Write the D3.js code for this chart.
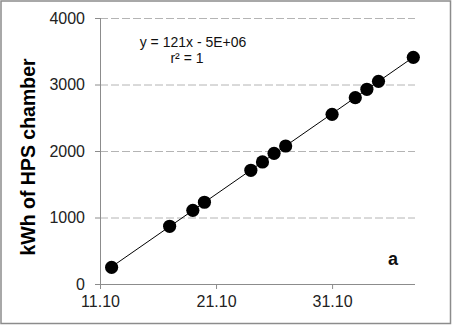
<!DOCTYPE HTML>
<html lang="en">
    <head>
        <meta charset="utf-8">
        <title>kWh of HPS chamber</title>
        <script src="https://d3js.org/d3.v7.min.js"></script>
        <style>
            body { margin: 0; background: #fff; }
            text { font-family: Arial, "Liberation Sans", sans-serif; }
        </style>
    </head>
    <body>
        <div class="chart"></div>

        <script>
            // readings (date, cumulative kWh)
            var dates = ["2013-10-12", "2013-10-17", "2013-10-19", "2013-10-20", "2013-10-24", "2013-10-25",
                         "2013-10-26", "2013-10-27", "2013-10-31", "2013-11-02", "2013-11-03", "2013-11-04", "2013-11-07"];
            var kwh = [251, 868, 1108, 1229, 1710, 1835, 1965, 2075, 2552, 2802, 2928, 3048, 3409];
            var xTicks = ["2013-10-11", "2013-10-21", "2013-10-31"];
            var yTicks = [0, 1000, 2000, 3000, 4000];
            var equation = "y = 121x  - 5E+06";
            var rSquared = "r\u00b2 = 1";

            var W = 452, H = 325;
            var margin = {top: 18, right: 37, bottom: 41, left: 100},
                width = W - margin.left - margin.right,
                height = H - margin.top - margin.bottom;

            var parseDate = d3.timeParse("%Y-%m-%d");
            var data = dates.map(function(d, i) { return {date: parseDate(d), value: kwh[i]}; });

            var x = d3.scaleTime()
                .domain([parseDate("2013-10-11"), new Date(2013, 10, 7, 3, 30)])
                .range([0, width]);
            var y = d3.scaleLinear().domain([0, 4000]).range([height, 0]);

            var svg = d3.select(".chart").append("svg")
                .attr("width", W)
                .attr("height", H);

            // outer frame
            svg.append("rect")
                .attr("x", 1).attr("y", 1)
                .attr("width", W - 2.5).attr("height", H - 2.5)
                .attr("fill", "none")
                .attr("stroke", "#8c8c8c")
                .attr("stroke-width", 1.5);

            var g = svg.append("g")
                .attr("transform", "translate(" + margin.left + "," + margin.top + ")");

            // gridlines
            g.selectAll(".grid")
                .data(yTicks.slice(1))
                .enter().append("line")
                .attr("x1", 0).attr("x2", width)
                .attr("y1", function(d) { return y(d) + 0.5; })
                .attr("y2", function(d) { return y(d) + 0.5; })
                .attr("stroke", "#b4b4b4")
                .attr("stroke-dasharray", "8,3");

            var yAxis = g.append("g")
                .call(d3.axisLeft(y).tickValues(yTicks).tickSize(5).tickPadding(10).tickFormat(d3.format("d")));
            yAxis.select(".domain").attr("stroke", "#8c8c8c").attr("d", "M0.5," + height + "V0");
            yAxis.selectAll(".tick line").attr("stroke", "#8c8c8c");
            yAxis.selectAll("text").attr("font-size", 16).attr("fill", "#222");

            var xAxis = g.append("g")
                .attr("transform", "translate(0," + height + ")")
                .call(d3.axisBottom(x)
                    .tickValues(xTicks.map(parseDate))
                    .tickSize(5)
                    .tickPadding(7)
                    .tickFormat(d3.timeFormat("%d.%m")));
            xAxis.select(".domain").attr("stroke", "#8c8c8c").attr("d", "M0,0.5H" + width);
            xAxis.selectAll(".tick line").attr("stroke", "#8c8c8c");
            xAxis.selectAll("text").attr("font-size", 16).attr("fill", "#222");

            // linear trendline (least squares)
            var xs = data.map(function(d) { return +d.date; });
            var mx = d3.mean(xs), my = d3.mean(kwh);
            var slope = d3.sum(data, function(d) { return (+d.date - mx) * (d.value - my); }) /
                        d3.sum(xs, function(v) { return (v - mx) * (v - mx); });
            var icpt = my - slope * mx;
            var ends = [data[0].date, data[data.length - 1].date];
            g.append("line")
                .attr("x1", x(ends[0])).attr("y1", y(icpt + slope * ends[0]))
                .attr("x2", x(ends[1])).attr("y2", y(icpt + slope * ends[1]))
                .attr("stroke", "#000")
                .attr("stroke-width", 1);

            g.selectAll(".dot")
                .data(data)
                .enter().append("circle")
                .attr("cx", function(d) { return x(d.date); })
                .attr("cy", function(d) { return y(d.value); })
                .attr("r", 6.6)
                .attr("fill", "#000");

            // equation
            g.append("text")
                .attr("x", 93).attr("y", 29)
                .attr("text-anchor", "middle")
                .attr("font-size", 14)
                .attr("fill", "#111")
                .text(equation);
            g.append("text")
                .attr("x", 87).attr("y", 45)
                .attr("text-anchor", "middle")
                .attr("font-size", 14)
                .attr("fill", "#111")
                .text(rSquared);

            g.append("text")
                .attr("x", 293).attr("y", 247)
                .attr("text-anchor", "middle")
                .attr("font-size", 18)
                .attr("font-weight", "bold")
                .attr("fill", "#111")
                .text("a");

            // y axis title
            svg.append("text")
                .attr("transform", "translate(35,157) rotate(-90)")
                .attr("text-anchor", "middle")
                .attr("font-size", 19.5)
                .attr("font-weight", "bold")
                .attr("fill", "#000")
                .text("kWh of HPS chamber");
        </script>
    </body>
</html>
